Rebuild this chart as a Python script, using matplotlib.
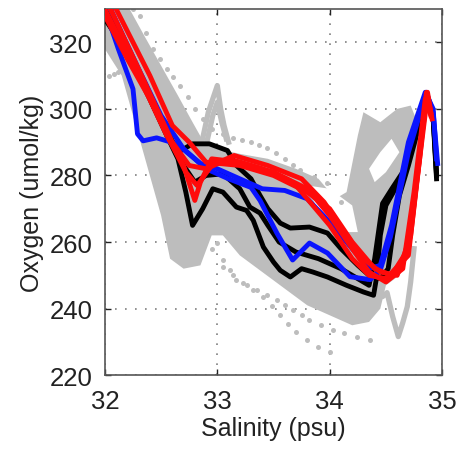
import matplotlib
matplotlib.use("Agg")
import matplotlib.pyplot as plt

plt.rcParams['font.family'] = ['Liberation Sans', 'DejaVu Sans']

# ---------------- data (salinity psu, oxygen umol/kg) ----------------
# dense grey cloud envelope
cloud_s = [32.0, 32.22, 32.35, 32.5, 32.65, 32.78, 32.88, 33.0, 33.2, 33.45, 33.7, 33.9, 34.05,
           34.15, 34.25, 34.3, 34.45, 34.6, 34.72, 34.78, 34.8, 34.75, 34.7, 34.62, 34.5, 34.45,
           34.35, 34.2, 34.0, 33.8, 33.6, 33.4, 33.2, 33.05, 32.95, 32.85, 32.7, 32.58, 32.5,
           32.4, 32.3, 32.15, 32.0]
cloud_o = [330, 330, 322, 313, 304, 296, 290, 288, 286.5, 285, 282, 279, 273,
           275, 292, 299, 296, 300, 301, 296, 285, 268, 256, 250, 247, 240,
           236, 235, 238, 241, 246, 251, 256, 262, 262, 253, 252, 255, 268,
           280, 292, 310, 318]
# white gaps inside the cloud
gap1_s = [33.8, 34.0, 34.2, 34.25, 34.1, 33.9]
gap1_o = [277, 276, 271, 263, 263, 269]
gap2_s = [34.35, 34.45, 34.55, 34.62, 34.5, 34.4]
gap2_o = [282, 287, 291, 287, 281, 278]

# grey profiles outside the dense cloud
spike_s = [32.85, 32.92, 33.0, 33.03, 33.06, 33.1]
spike_o = [288, 299, 307, 300, 295, 290]
spike2_s = [32.9, 32.96, 33.0, 33.04, 33.08]
spike2_o = [289, 298, 302, 296, 291]
wiggle_s = [34.42, 34.47, 34.51, 34.56, 34.61, 34.65, 34.69, 34.72, 34.75]
wiggle_o = [250, 243.6, 244.8, 237.6, 231.6, 235.8, 240.6, 248, 258]

# sparse dotted grey profiles
dots_up_s = [32.25, 32.31, 32.37, 32.43, 32.49, 32.55, 32.61, 32.67, 32.74, 32.8, 32.87, 32.95,
             33.05, 33.14, 33.22, 33.3, 33.37, 33.44, 33.52, 33.6, 33.67, 33.74, 33.86, 33.98, 34.1]
dots_up_o = [330, 327.8, 322.7, 317.9, 315, 312, 309.5, 306.9, 303.5, 300, 297, 294,
             292.5, 291.3, 290.6, 290, 289.2, 288.4, 286.7, 285, 283.2, 281.5, 279.6, 277.6, 272]
dots_lo1_s = [32.9, 33.0, 33.05, 33.11, 33.17, 33.26, 33.35, 33.44, 33.53, 33.6, 33.67, 33.75,
              33.82, 33.92, 34.03, 34.13, 34.24, 34.36]
dots_lo1_o = [265, 259.7, 254.6, 251.6, 248.7, 247.2, 245.7, 244.2, 242.7, 241.2, 239.7, 238.2,
              236.7, 235.2, 233.7, 232.6, 231.6, 230.7]
dots_lo2_s = [32.95, 33.05, 33.14, 33.23, 33.32, 33.41, 33.49, 33.56, 33.63, 33.7, 33.8, 33.9, 34.0]
dots_lo2_o = [258, 252.5, 250, 247.7, 245.6, 243.6, 240.8, 238, 235.5, 233, 230.5, 228.5, 227]
dots_left_s = [32.04, 32.08, 32.12, 32.16]
dots_left_o = [309.8, 310.5, 311.2, 312]

# black profiles
blk1_s = [32.0, 32.2, 32.4, 32.55, 32.65, 32.72, 32.78, 32.87, 32.96, 33.05, 33.17, 33.26, 33.32,
          33.41, 33.5, 33.56, 33.65, 33.75, 33.85, 33.98, 34.15, 34.3, 34.39, 34.42, 34.45, 34.5,
          34.6, 34.7, 34.8, 34.86, 34.92, 34.95]
blk1_o = [327, 317, 303, 292, 285, 275, 265, 270, 276, 275, 270.5, 269.5, 266.5,
          258.5, 254, 251.5, 249.5, 252, 251, 249.5, 247, 245, 244, 250, 262, 271,
          277, 284, 297, 304, 298, 280]
blk2_s = [32.0, 32.3, 32.5, 32.65, 32.78, 32.93, 33.09, 33.17, 33.3, 33.38, 33.45, 33.56, 33.65,
          33.82, 33.98, 34.1, 34.25, 34.35, 34.45, 34.52, 34.56, 34.62, 34.7, 34.78, 34.85, 34.92, 34.95]
blk2_o = [329, 310, 296, 287, 289.5, 289.5, 287.5, 283, 279, 274, 270, 265.7, 264.2,
          264.5, 262.7, 258, 253, 250, 249, 252, 262, 274, 283, 293, 304, 297, 279]
blk3_s = [32.0, 32.3, 32.55, 32.7, 32.8, 32.9, 33.05, 33.2, 33.29, 33.38, 33.45, 33.55, 33.7,
          33.9, 34.1, 34.25, 34.35, 34.4, 34.47, 34.56, 34.65, 34.75, 34.85, 34.92, 34.95]
blk3_o = [330, 311, 294, 283, 278, 280, 280.5, 276, 270.5, 268.7, 265, 260, 257,
          255, 252, 249, 247, 255, 271.6, 276.4, 281, 291, 304, 298, 281]

# blue profiles
blu1_s = [32.0, 32.12, 32.25, 32.29, 32.34, 32.46, 32.64, 32.85, 33.0, 33.2, 33.4, 33.6, 33.8,
          34.0, 34.2, 34.35, 34.45, 34.55, 34.7, 34.85, 34.92, 34.95]
blu1_o = [330, 318, 306, 292.5, 290.4, 291.3, 289.5, 283.6, 282, 279, 276, 275.5, 273,
          266, 258, 252, 253, 265, 290, 305, 300, 285]
blu2_s = [32.05, 32.3, 32.5, 32.7, 32.9, 33.1, 33.3, 33.38, 33.53, 33.67, 33.82, 33.98, 34.18,
          34.36, 34.45, 34.54, 34.7, 34.86, 34.92, 34.96]
blu2_o = [330, 312, 298, 288, 282, 279, 276.4, 272.5, 262.7, 254.6, 259.7, 256.7, 249.6,
          248.7, 251.6, 261.5, 287, 305, 299, 283.6]

# red profiles
red1_s = [32.0, 32.3, 32.55, 32.7, 32.8, 32.85, 32.95, 33.2, 33.5, 33.8, 34.0, 34.2, 34.35,
          34.5, 34.65, 34.75, 34.85, 34.9]
red1_o = [330, 310, 292, 283, 272.5, 278, 285, 284, 281, 276, 268, 258, 251,
          248, 252, 275, 303, 298]
red2_s = [32.1, 32.4, 32.6, 32.75, 32.9, 33.2, 33.5, 33.8, 34.0, 34.2, 34.4, 34.55, 34.7,
          34.8, 34.87, 34.91]
red2_o = [330, 310, 295, 290, 284, 283, 280, 275, 270, 260, 252, 250, 258,
          285, 304, 297]
red3_s = [32.05, 32.3, 32.6, 32.75, 32.9, 33.1, 33.4, 33.7, 34.0, 34.2, 34.35, 34.5, 34.7,
          34.8, 34.86, 34.9]
red3_o = [330, 312, 290, 283, 282, 285, 282, 277, 265, 255, 250, 249, 256,
          285, 305, 298]
red4_s = [32.0, 32.2, 32.4, 32.6, 32.72, 32.82, 32.95, 33.15, 33.45, 33.75, 33.95, 34.15, 34.3,
          34.45, 34.6, 34.72, 34.82, 34.87, 34.9]
red4_o = [328, 315, 303, 289, 281, 277, 283, 286, 283, 279, 272, 262, 255,
          251, 250, 262, 292, 305, 299]

x_ticks = [32, 33, 34, 35]
y_ticks = [220, 240, 260, 280, 300, 320]

# ---------------- plot ----------------
fig = plt.figure(figsize=(4.62, 4.56), dpi=100)
ax = fig.add_axes([0.227, 0.175, 0.73, 0.803])

grey = '#bdbdbd'
ax.fill(cloud_s, cloud_o, color=grey, lw=0, zorder=1)
ax.fill(gap1_s, gap1_o, color='white', lw=0, zorder=1.1)
ax.fill(gap2_s, gap2_o, color='white', lw=0, zorder=1.1)
for s, o in [(spike_s, spike_o), (spike2_s, spike2_o), (wiggle_s, wiggle_o)]:
    ax.plot(s, o, color=grey, lw=3.8, zorder=1.2)
for s, o in [(dots_up_s, dots_up_o), (dots_lo1_s, dots_lo1_o),
             (dots_lo2_s, dots_lo2_o), (dots_left_s, dots_left_o)]:
    ax.plot(s, o, ls='none', marker='o', ms=3.6, color=grey, mec='none', zorder=1.3)

lw = 3.5
for s, o in [(blk1_s, blk1_o), (blk2_s, blk2_o), (blk3_s, blk3_o)]:
    ax.plot(s, o, color='black', lw=lw, solid_joinstyle='round', zorder=3)
for s, o in [(blu1_s, blu1_o), (blu2_s, blu2_o)]:
    ax.plot(s, o, color='#0a14ff', lw=lw, solid_joinstyle='round', zorder=4)
for s, o in [(red1_s, red1_o), (red2_s, red2_o), (red3_s, red3_o), (red4_s, red4_o)]:
    ax.plot(s, o, color='#ff0a0a', lw=lw, solid_joinstyle='round', zorder=5)

ax.set_xlim(32, 35)
ax.set_ylim(220, 330)
ax.set_xticks(x_ticks)
ax.set_yticks(y_ticks)
ax.grid(True, color='#7f7f7f', ls=(0, (1, 5)), lw=1.2)
ax.set_axisbelow(True)
ax.tick_params(direction='in', top=True, right=True, length=4, width=1,
               labelsize=18.5, colors='#222222', pad=9)
ax.tick_params(axis='x', pad=10)
for sp in ax.spines.values():
    sp.set_color('#555555')
    sp.set_linewidth(1.2)
ax.set_xlabel('Salinity (psu)', fontsize=18, color='#222222', labelpad=2)
ax.set_ylabel('Oxygen (umol/kg)', fontsize=18, color='#222222', labelpad=4)

fig.savefig('out.png', dpi=100)
